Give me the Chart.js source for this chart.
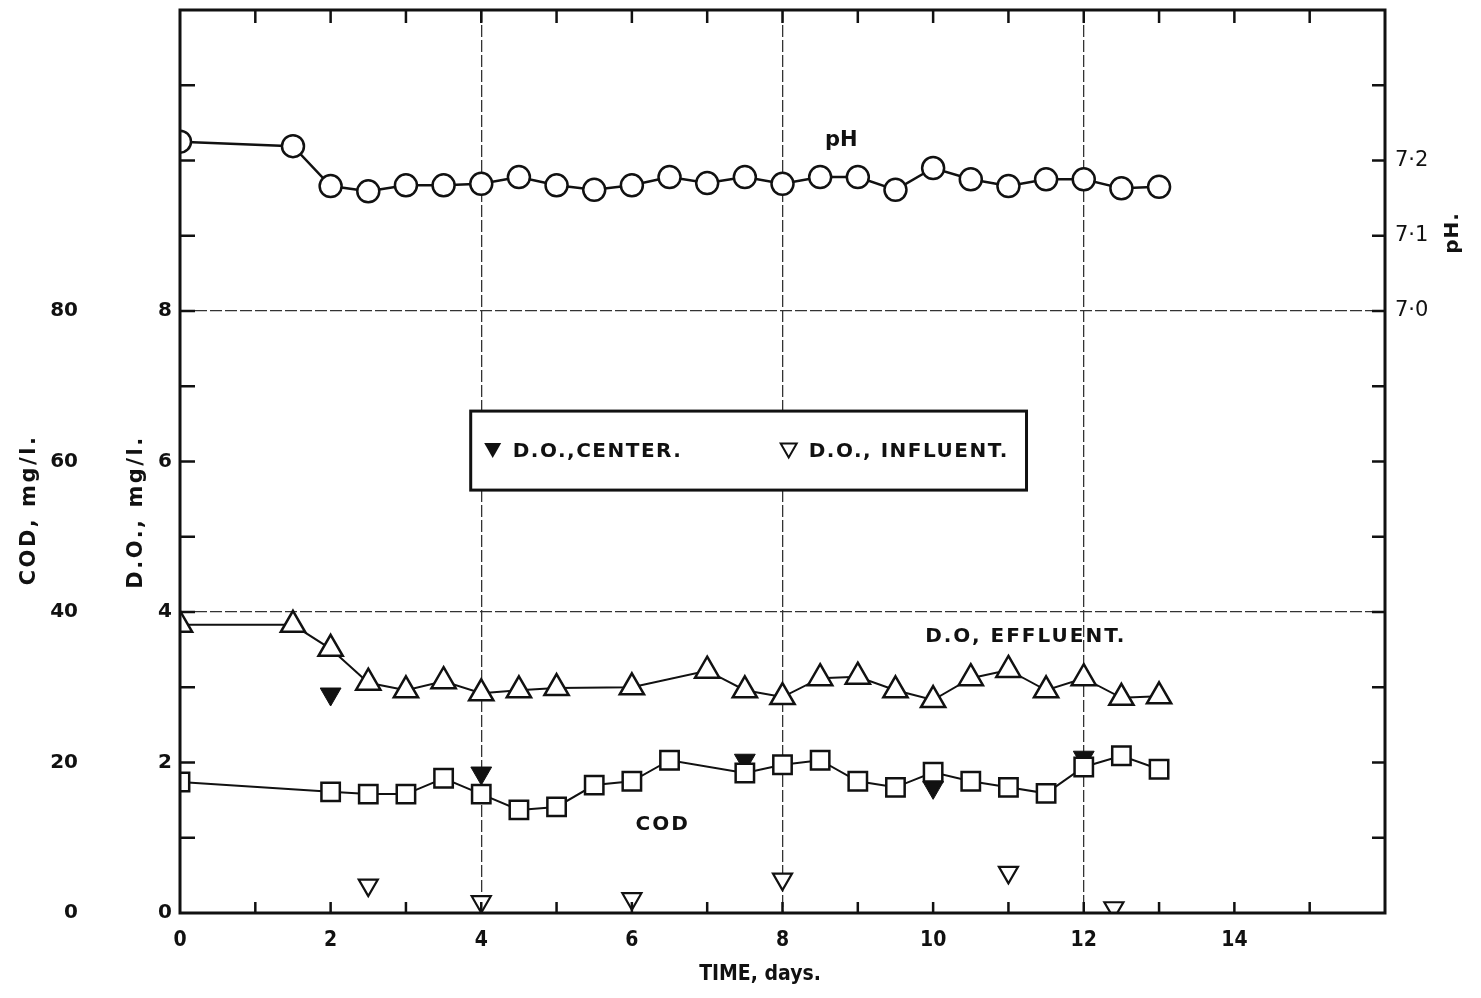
<!DOCTYPE html>
<html>
<head>
<meta charset="utf-8">
<title>COD, D.O. and pH vs time</title>
<script src="https://cdn.jsdelivr.net/npm/chart.js@4.4.1/dist/chart.umd.min.js"></script>
<style>
  html, body { margin: 0; padding: 0; background: #fff; }
  #wrap { position: relative; width: 1481px; height: 998px; }
</style>
</head>
<body>
<div id="wrap"><canvas id="chart"></canvas></div>
<script>
/* ─── Data ───────────────────────────────────────────────────────────────── */
const phDays   = [0, 1.5, 2, 2.5, 3, 3.5, 4, 4.5, 5, 5.5, 6, 6.5, 7, 7.5, 8, 8.5, 9, 9.5, 10, 10.5, 11, 11.5, 12, 12.5, 13];
const phValues = [7.225, 7.219, 7.166, 7.159, 7.167, 7.167, 7.169, 7.178, 7.167, 7.161, 7.167, 7.178, 7.170,
                  7.178, 7.169, 7.178, 7.178, 7.161, 7.190, 7.175, 7.166, 7.175, 7.175, 7.163, 7.165];

const effDays   = [0, 1.5, 2, 2.5, 3, 3.5, 4, 4.5, 5, 6, 7, 7.5, 8, 8.5, 9, 9.5, 10, 10.5, 11, 11.5, 12, 12.5, 13];
const effValues = [3.83, 3.83, 3.51, 3.06, 2.96, 3.08, 2.92, 2.96, 2.99, 3.00, 3.22, 2.96,
                   2.87, 3.12, 3.14, 2.96, 2.83, 3.12, 3.23, 2.96, 3.12, 2.86, 2.88];

const centerDays   = [2, 4, 7.5, 10, 12];
const centerValues = [2.91, 1.86, 2.03, 1.67, 2.07];

const inflDays   = [2.5, 4, 6, 8, 11, 12.4];
const inflValues = [0.37, 0.15, 0.19, 0.45, 0.54, 0.07];

const codDays   = [0, 2, 2.5, 3, 3.5, 4, 4.5, 5, 5.5, 6, 6.5, 7.5, 8, 8.5, 9, 9.5, 10, 10.5, 11, 11.5, 12, 12.5, 13];
const codValues = [17.4, 16.1, 15.8, 15.8, 17.9, 15.8, 13.7, 14.1, 17.0, 17.5, 20.3, 18.6,
                   19.7, 20.3, 17.5, 16.7, 18.7, 17.5, 16.7, 15.9, 19.4, 20.9, 19.1];

const xTickLabels   = [0, 2, 4, 6, 8, 10, 12, 14];
const doTickLabels  = [0, 2, 4, 6, 8];
const codTickLabels = [0, 20, 40, 60, 80];
const phTickLabels  = ['7·0', '7·1', '7·2'];

/* ─── Helpers ────────────────────────────────────────────────────────────── */
const pts = (xs, ys) => xs.map((x, i) => ({ x, y: ys[i] }));
const INK = '#111';
const FONT = '"DejaVu Sans", "Liberation Sans", sans-serif';

function rotText(ctx, text, x, y, font, spacing) {
  ctx.save();
  ctx.translate(x, y);
  ctx.rotate(-Math.PI / 2);
  ctx.font = font;
  ctx.letterSpacing = spacing || '0px';
  ctx.textAlign = 'center';
  ctx.textBaseline = 'middle';
  ctx.fillText(text, 0, 0);
  ctx.restore();
}

function plainText(ctx, text, x, y, font, spacing) {
  ctx.save();
  ctx.font = font;
  ctx.letterSpacing = spacing || '0px';
  ctx.textAlign = 'center';
  ctx.textBaseline = 'middle';
  ctx.fillText(text, x, y);
  ctx.restore();
}

function downTri(ctx, x, y, w, h, filled) {
  ctx.beginPath();
  ctx.moveTo(x - w / 2, y - h / 2);
  ctx.lineTo(x + w / 2, y - h / 2);
  ctx.lineTo(x, y + h / 2);
  ctx.closePath();
  if (filled) ctx.fill(); else ctx.stroke();
}

// fixed axis box sizes so the plot area lands where the figure has it
function fixBox(size) {
  return s => {
    if (s.isHorizontal()) s.height = size; else s.width = size;
    s.paddingTop = 0; s.paddingBottom = 0; s.paddingLeft = 0; s.paddingRight = 0;
  };
}

/* ─── Decorations: frame, inner ticks, labels, legend box ────────────────── */
const decor = {
  id: 'decor',
  afterDraw(chart) {
    const { ctx, chartArea: a, scales } = chart;
    const xs = scales.x, ys = scales.y;
    ctx.save();
    ctx.strokeStyle = INK;
    ctx.fillStyle = INK;

    // inner tick marks
    ctx.lineWidth = 2.5;
    ctx.beginPath();
    for (let d = 1; d < 16; d++) {
      const px = xs.getPixelForValue(d);
      ctx.moveTo(px, a.bottom); ctx.lineTo(px, a.bottom - 11);
      ctx.moveTo(px, a.top);    ctx.lineTo(px, a.top + 13);
    }
    for (let v = 1; v < 12; v++) {
      const py = ys.getPixelForValue(v);
      ctx.moveTo(a.left, py);  ctx.lineTo(a.left + 15, py);
      ctx.moveTo(a.right, py); ctx.lineTo(a.right - 13, py);
    }
    ctx.stroke();

    // frame
    ctx.lineWidth = 3;
    ctx.strokeRect(a.left, a.top, a.right - a.left, a.bottom - a.top);

    // axis titles
    rotText(ctx, 'COD, mg/l.', 30, 510, 'bold 21px ' + FONT, '2.5px');
    rotText(ctx, 'D.O., mg/l.', 137, 512, 'bold 21px ' + FONT, '2.5px');
    rotText(ctx, 'pH.', 1453, 233, 'bold 20px ' + FONT, '1px');
    plainText(ctx, 'TIME, days.', 760, 975, 'bold 21px "DejaVu Sans Condensed", ' + FONT);

    // series labels placed in data space
    plainText(ctx, 'pH', xs.getPixelForValue(8.78), ys.getPixelForValue(10.27), 'bold 21px ' + FONT);
    plainText(ctx, 'D.O, EFFLUENT.', xs.getPixelForValue(11.23), ys.getPixelForValue(3.67), 'bold 20px ' + FONT, '2px');
    plainText(ctx, 'COD', xs.getPixelForValue(6.41), ys.getPixelForValue(1.17), 'bold 20px ' + FONT, '2px');

    // legend box
    const bl = xs.getPixelForValue(3.86), br = xs.getPixelForValue(11.24);
    const bt = ys.getPixelForValue(6.67), bb = ys.getPixelForValue(5.62);
    ctx.fillStyle = '#fff';
    ctx.fillRect(bl, bt, br - bl, bb - bt);
    ctx.fillStyle = INK;
    ctx.lineWidth = 3;
    ctx.strokeRect(bl, bt, br - bl, bb - bt);
    const my = (bt + bb) / 2;
    downTri(ctx, bl + 22, my, 17, 15, true);
    ctx.lineWidth = 2;
    downTri(ctx, bl + 318, my, 16, 14, false);
    ctx.font = 'bold 20px ' + FONT;
    ctx.letterSpacing = '1.5px';
    ctx.textAlign = 'left';
    ctx.textBaseline = 'middle';
    ctx.fillText('D.O.,CENTER.', bl + 42, my + 1);
    ctx.fillText('D.O., INFLUENT.', bl + 338, my + 1);
    ctx.restore();
  }
};

/* ─── Chart ──────────────────────────────────────────────────────────────── */
Chart.defaults.font.family = FONT;
Chart.defaults.color = INK;

const gridAt = (vals) => (c) => vals.includes(c.tick.value) ? '#333' : 'rgba(0,0,0,0)';

new Chart(document.getElementById('chart'), {
  type: 'line',
  data: {
    datasets: [
      {
        label: 'pH',
        yAxisID: 'yPH',
        data: pts(phDays, phValues),
        borderColor: INK, borderWidth: 2.5,
        pointStyle: 'circle', pointRadius: 11,
        pointBackgroundColor: '#fff', pointBorderColor: INK, pointBorderWidth: 2.5
      },
      {
        label: 'D.O, effluent',
        yAxisID: 'y',
        data: pts(effDays, effValues),
        borderColor: INK, borderWidth: 2,
        pointStyle: 'triangle', pointRadius: 14,
        pointBackgroundColor: '#fff', pointBorderColor: INK, pointBorderWidth: 2.5
      },
      {
        label: 'COD',
        yAxisID: 'yCOD',
        data: pts(codDays, codValues),
        borderColor: INK, borderWidth: 2,
        pointStyle: 'rect', pointRadius: 13,
        pointBackgroundColor: '#fff', pointBorderColor: INK, pointBorderWidth: 2.5
      },
      {
        label: 'D.O., center',
        yAxisID: 'y',
        data: pts(centerDays, centerValues),
        showLine: false,
        pointStyle: 'triangle', pointRotation: 180, pointRadius: 12,
        pointBackgroundColor: INK, pointBorderColor: INK, pointBorderWidth: 1
      },
      {
        label: 'D.O., influent',
        yAxisID: 'y',
        data: pts(inflDays, inflValues),
        showLine: false,
        pointStyle: 'triangle', pointRotation: 180, pointRadius: 11,
        pointBackgroundColor: '#fff', pointBorderColor: INK, pointBorderWidth: 2.2
      }
    ]
  },
  options: {
    responsive: true,
    maintainAspectRatio: false,
    animation: false,
    layout: { autoPadding: false, padding: { top: 10, left: 0, right: 0, bottom: 0 } },
    plugins: { legend: { display: false }, tooltip: { enabled: false } },
    scales: {
      x: {
        type: 'linear', position: 'bottom', min: 0, max: 16,
        afterFit: fixBox(85),
        border: { display: false, dash: [12, 3] },
        grid: { color: gridAt([4, 8, 12]), lineWidth: 1.3, drawTicks: false },
        ticks: {
          stepSize: 2, autoSkip: false, maxRotation: 0, padding: 15,
          font: { size: 21, weight: 'bold', family: '"DejaVu Sans Condensed", ' + FONT },
          callback: v => xTickLabels.includes(v) ? String(v) : ''
        }
      },
      y: {
        type: 'linear', position: 'left', weight: 0, min: 0, max: 12,
        afterFit: fixBox(60),
        border: { display: false, dash: [12, 3] },
        grid: { color: gridAt([4, 8]), lineWidth: 1.3, drawTicks: false },
        ticks: {
          stepSize: 2, autoSkip: false, padding: 8,
          font: { size: 20, weight: 'bold' },
          callback: v => doTickLabels.includes(v) ? String(v) : ''
        }
      },
      yCOD: {
        type: 'linear', position: 'left', weight: 1, min: 0, max: 120,
        afterFit: fixBox(120),
        border: { display: false },
        grid: { display: false, drawTicks: false },
        ticks: {
          stepSize: 20, autoSkip: false, padding: 42,
          font: { size: 20, weight: 'bold' },
          callback: v => codTickLabels.includes(v) ? String(v) : ''
        }
      },
      yPH: {
        type: 'linear', position: 'right', min: 6.2, max: 7.4,
        afterFit: fixBox(96),
        border: { display: false },
        grid: { display: false, drawTicks: false },
        ticks: {
          stepSize: 0.1, autoSkip: false, padding: 10,
          font: { size: 21 },
          callback: v => {
            const k = Math.round(v * 10) - 70;
            return k >= 0 && k < phTickLabels.length ? phTickLabels[k] : '';
          }
        }
      }
    }
  },
  plugins: [decor]
});
</script>
</body>
</html>
